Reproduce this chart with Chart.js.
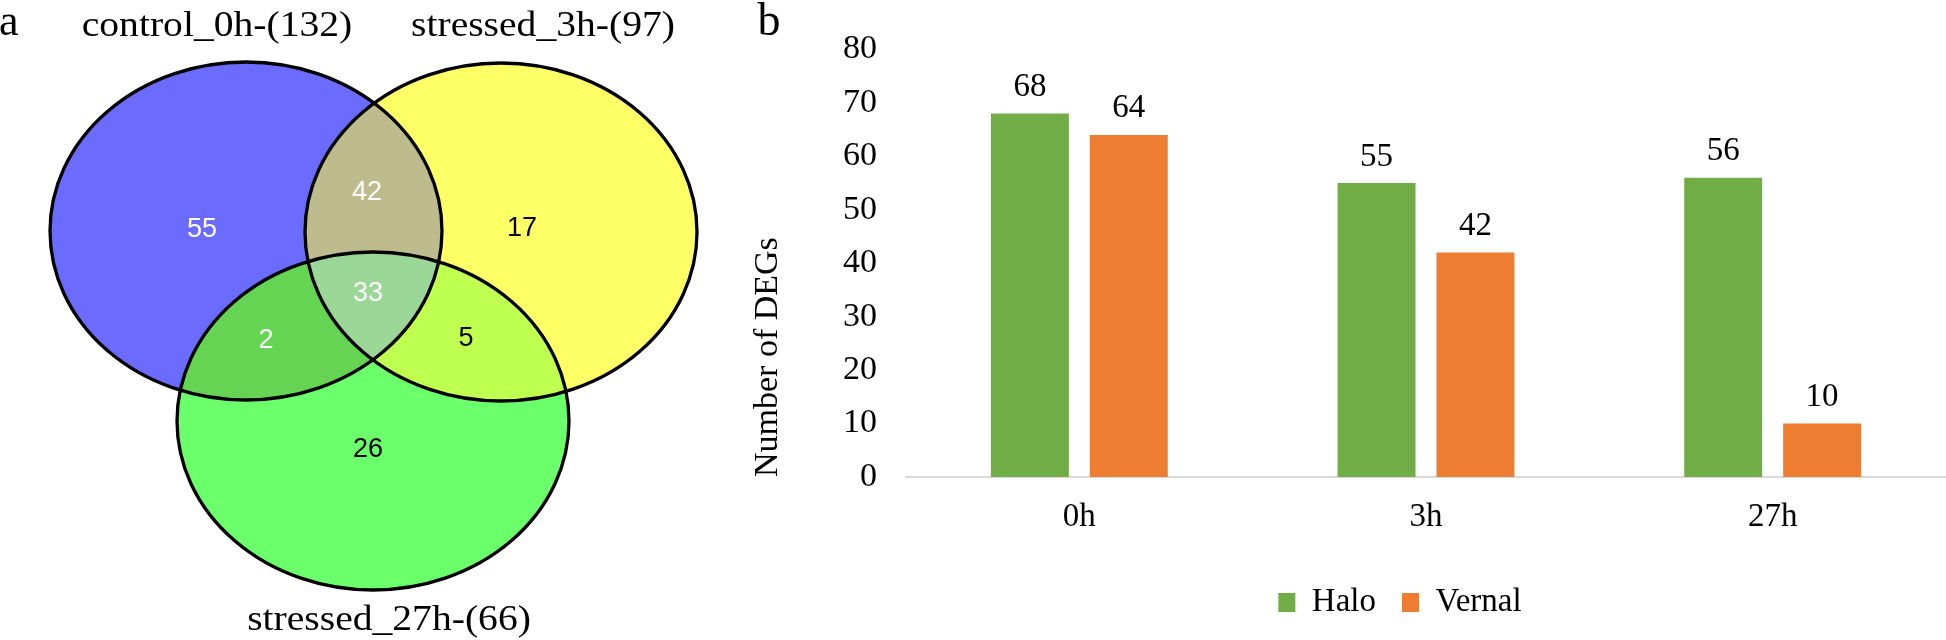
<!DOCTYPE html>
<html>
<head>
<meta charset="utf-8">
<title>DEGs: Venn and bar chart</title>
<script src="https://cdn.jsdelivr.net/npm/chart.js@4.4.1/dist/chart.umd.min.js"></script>
<style>
  html, body { margin: 0; padding: 0; background: #fff; overflow: hidden; }
  #wrap { position: relative; width: 1946px; height: 640px; }
  #venn { position: absolute; left: 0; top: 0; }
  #bars { position: absolute; left: 740px; top: 0; }
</style>
</head>
<body>
<div id="wrap">
  <canvas id="venn" width="740" height="640"></canvas>
  <canvas id="bars" width="1206" height="640"></canvas>
</div>
<script>
// ---- panel a data (Venn) ----
const vennSets = ['control_0h', 'stressed_3h', 'stressed_27h'];
const vennSetTotals = [132, 97, 66];
// regions by membership: A = control_0h, B = stressed_3h, C = stressed_27h
const vennRegions = ['A', 'B', 'C', 'AB', 'AC', 'BC', 'ABC'];
const vennCounts = [55, 17, 26, 42, 2, 5, 33];

// ---- panel b data (bars) ----
const timePoints = ['0h', '3h', '27h'];
const haloDEGs = [68, 55, 56];
const vernalDEGs = [64, 42, 10];
const yMax = 80;
const yStep = 10;

// ---- layout / styles (not data) ----
const vennCenters = [{x: 246, y: 231}, {x: 501, y: 232}, {x: 373, y: 421}];
const vennRx = 196;
const vennRy = 169;
const regionStyle = {
  A:   {fill: '#6b6bff', pos: [202, 230], text: '#fff'},
  B:   {fill: '#ffff66', pos: [522, 229], text: '#000'},
  C:   {fill: '#6bff6b', pos: [368, 450], text: '#000'},
  AB:  {fill: '#bebb8c', pos: [367, 193], text: '#fff'},
  AC:  {fill: '#64d452', pos: [266, 341], text: '#fff'},
  BC:  {fill: '#beff50', pos: [466, 339], text: '#000'},
  ABC: {fill: '#9bd796', pos: [368, 294], text: '#fff'}
};
const titlePos = [[217, 36], [543, 36], [389, 630]];

const serif = '"Liberation Serif", "Times New Roman", serif';
const sans = '"Liberation Sans", Arial, sans-serif';
Chart.defaults.color = '#000';
Chart.defaults.font.family = serif;

function clipEllipse(ctx, e, inside, w, h) {
  ctx.beginPath();
  if (!inside) ctx.rect(0, 0, w, h);
  ctx.ellipse(e.cx, e.cy, e.rx, e.ry, 0, 0, Math.PI * 2);
  ctx.clip(inside ? 'nonzero' : 'evenodd');
}

const vennPlugin = {
  id: 'venn',
  beforeDatasetsDraw(chart) {
    const {ctx, width, height, scales: {x, y}} = chart;
    const ells = chart.data.datasets.map((ds, i) => {
      const p = chart.getDatasetMeta(i).data[0];
      return {
        cx: p.x, cy: p.y,
        rx: Math.abs(x.getPixelForValue(vennRx) - x.getPixelForValue(0)),
        ry: Math.abs(y.getPixelForValue(vennRy) - y.getPixelForValue(0))
      };
    });
    const letters = ['A', 'B', 'C'];

    vennRegions.forEach(r => {
      ctx.save();
      letters.forEach((l, k) => clipEllipse(ctx, ells[k], r.includes(l), width, height));
      ctx.fillStyle = regionStyle[r].fill;
      ctx.fillRect(0, 0, width, height);
      ctx.restore();
    });

    ctx.save();
    ctx.lineWidth = 3.3;
    ctx.strokeStyle = '#000';
    ells.forEach(e => {
      ctx.beginPath();
      ctx.ellipse(e.cx, e.cy, e.rx, e.ry, 0, 0, Math.PI * 2);
      ctx.stroke();
    });

    ctx.font = '27px ' + sans;
    ctx.textAlign = 'center';
    ctx.textBaseline = 'middle';
    vennRegions.forEach((r, i) => {
      const s = regionStyle[r];
      ctx.fillStyle = s.text;
      ctx.fillText(String(vennCounts[i]), x.getPixelForValue(s.pos[0]), y.getPixelForValue(s.pos[1]));
    });

    ctx.fillStyle = '#000';
    ctx.font = '36px ' + serif;
    ctx.textBaseline = 'alphabetic';
    vennSets.forEach((name, i) => {
      ctx.save();
      ctx.translate(x.getPixelForValue(titlePos[i][0]), y.getPixelForValue(titlePos[i][1]));
      ctx.scale(1.1, 1);
      ctx.fillText(name + '-(' + vennSetTotals[i] + ')', 0, 0);
      ctx.restore();
    });

    ctx.font = '44px ' + serif;
    ctx.textAlign = 'left';
    ctx.fillText('a', -1, 35);
    ctx.restore();
  }
};

new Chart(document.getElementById('venn'), {
  type: 'scatter',
  data: {
    datasets: vennSets.map((name, i) => ({
      label: name,
      data: [vennCenters[i]],
      pointRadius: 0
    }))
  },
  options: {
    responsive: false,
    animation: false,
    layout: { padding: 0 },
    scales: {
      x: { type: 'linear', min: 0, max: 740, display: false },
      y: { type: 'linear', min: 0, max: 640, reverse: true, display: false }
    },
    plugins: { legend: { display: false }, tooltip: { enabled: false } }
  },
  plugins: [vennPlugin]
});

// value labels above bars + panel letter
const barValueLabels = {
  id: 'barValueLabels',
  afterDatasetsDraw(chart) {
    const ctx = chart.ctx;
    ctx.save();
    ctx.font = '33px ' + serif;
    ctx.fillStyle = '#000';
    ctx.textAlign = 'center';
    ctx.textBaseline = 'alphabetic';
    chart.data.datasets.forEach((ds, i) => {
      chart.getDatasetMeta(i).data.forEach((bar, j) => {
        ctx.fillText(String(ds.data[j]), bar.x, bar.y - 17.5);
      });
    });
    ctx.font = '46px ' + serif;
    ctx.textAlign = 'left';
    ctx.fillText('b', 17.5, 35);
    ctx.restore();
  }
};

// legend in the reference sits a bit left of the plot centre
const legendNudge = {
  id: 'legendNudge',
  afterLayout(chart) {
    const lg = chart.legend;
    const dx = 660 - (lg.left + lg.right) / 2;
    lg.left += dx;
    lg.right += dx;
  }
};

new Chart(document.getElementById('bars'), {
  type: 'bar',
  data: {
    labels: timePoints,
    datasets: [
      { label: 'Halo', data: haloDEGs, backgroundColor: '#70ad47', borderWidth: 0 },
      { label: 'Vernal', data: vernalDEGs, backgroundColor: '#ed7d31', borderWidth: 0 }
    ]
  },
  options: {
    responsive: false,
    animation: false,
    layout: { padding: { top: 21, bottom: 11, left: 0, right: 0 } },
    datasets: { bar: { categoryPercentage: 0.5706, barPercentage: 0.788 } },
    scales: {
      x: {
        grid: { display: false, drawTicks: false },
        border: { display: true, color: '#d9d9d9', width: 2 },
        ticks: { font: { size: 33 }, padding: 21, color: '#000' },
        afterFit: s => { s.height = 83; }
      },
      y: {
        min: 0,
        max: yMax,
        ticks: { stepSize: yStep, font: { size: 34 }, padding: 29, color: '#000' },
        grid: { display: false, drawTicks: false },
        border: { display: false },
        title: {
          display: true,
          text: 'Number of DEGs',
          align: 'start',
          font: { size: 34 },
          padding: { top: 8, bottom: 0 },
          color: '#000'
        },
        afterFit: s => { s.width = 166; }
      }
    },
    plugins: {
      legend: {
        position: 'bottom',
        labels: {
          font: { size: 33 },
          boxWidth: 17,
          boxHeight: 19,
          padding: 26,
          color: '#000'
        }
      },
      tooltip: { enabled: false }
    }
  },
  plugins: [barValueLabels, legendNudge]
});
</script>
</body>
</html>
